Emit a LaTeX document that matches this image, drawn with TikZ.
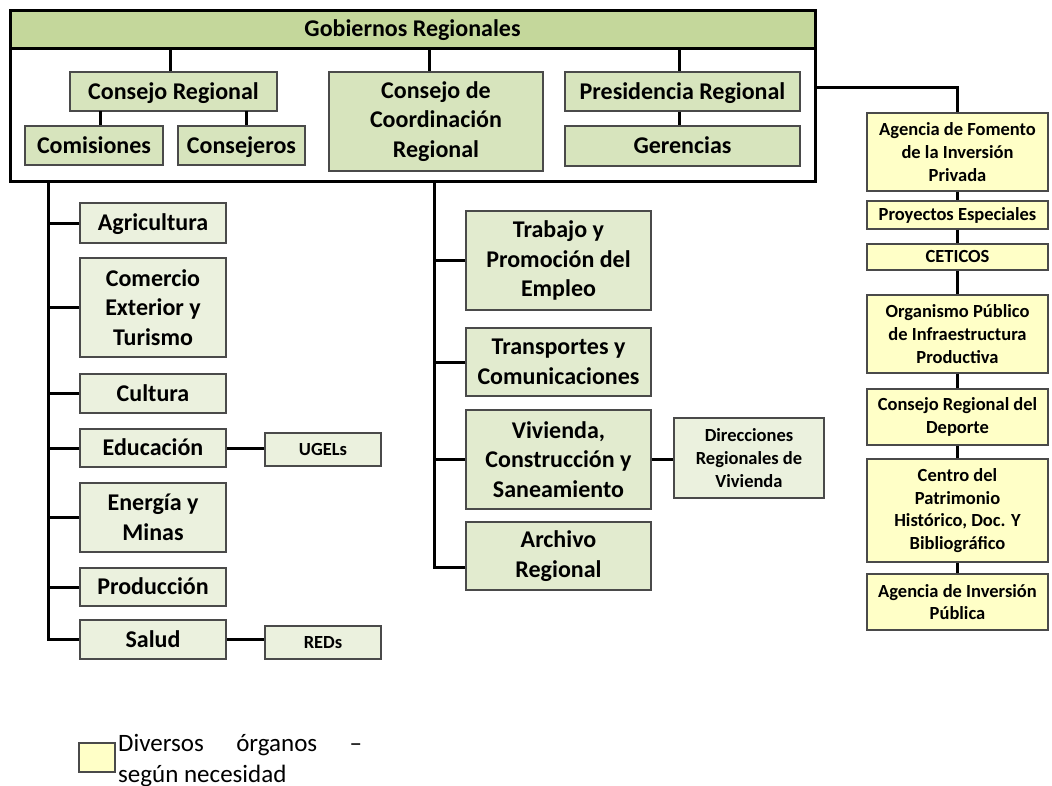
\documentclass[tikz,border=0pt]{standalone}
\usepackage{fontspec}
\setmainfont{Carlito}
\usetikzlibrary{calc}
\definecolor{hdrg}{HTML}{C4D79B}
\definecolor{lvtwo}{HTML}{D7E4BD}
\definecolor{lft}{HTML}{EBF1DE}
\definecolor{midg}{HTML}{E2EBCF}
\definecolor{yel}{HTML}{FFFFC7}
\definecolor{bgray}{HTML}{4A4A4A}
\newcommand\bx[7]{\node[#6, minimum width={(#4-#2)*1pt}, minimum height={(#5-#3)*1pt}] (#1) at ({(#2+#4)/2},{(#3+#5)/2}) {#7};}
\tikzset{
  conn/.style={line width=3pt, black},
  box/.style={draw=bgray, line width=1.2pt, align=center, inner sep=0pt, font=\bfseries\fontsize{24}{29.5}\selectfont},
  smallbox/.style={box, font=\bfseries\fontsize{18.5}{22.8}\selectfont},
  one/.style={text height=18pt, text depth=2.5pt},
  onesm/.style={text height=14pt, text depth=2.1pt},
  lvbox/.style={box, fill=lvtwo},
  lfbox/.style={box, fill=lft},
  mdbox/.style={box, fill=midg},
  ylbox/.style={smallbox, fill=yel},
}
\begin{document}
\begin{tikzpicture}[x=1pt,y=-1pt]
\useasboundingbox (0,0) rectangle (1052,785);
% top frame
\bx{outer}{10}{10}{815}{181}{draw=black, line width=3pt}{}
\bx{hdr}{10}{10}{815}{48}{draw=black, line width=3pt, fill=hdrg, one, font=\bfseries\fontsize{24}{29}\selectfont}{Gobiernos Regionales}
\bx{CR}{70}{72}{277}{111}{lvbox, one}{Consejo Regional}
\bx{Com}{25}{126}{163}{165}{lvbox, one}{Comisiones}
\bx{Cons}{178}{126}{305}{165}{lvbox, one}{Consejeros}
\bx{CCR}{329}{72}{543}{171}{lvbox}{Consejo de\\Coordinación\\Regional}
\bx{PR}{565}{72}{800}{111}{lvbox, one}{Presidencia Regional}
\bx{Ger}{565}{126}{800}{166}{lvbox, one}{Gerencias}
% left column
\bx{Agr}{80}{203}{226}{243}{lfbox, one}{Agricultura}
\bx{Cmx}{80}{258}{226}{357}{lfbox}{Comercio\\Exterior y\\Turismo}
\bx{Cul}{80}{374}{226}{413}{lfbox, one}{Cultura}
\bx{Edu}{80}{429}{226}{467}{lfbox, one}{Educación}
\bx{Ene}{80}{483}{226}{552}{lfbox}{Energía y\\Minas}
\bx{Pro}{80}{568}{226}{606}{lfbox, one}{Producción}
\bx{Sal}{80}{620}{226}{659}{lfbox, one}{Salud}
\bx{UG}{265}{433}{381}{466}{smallbox, fill=lft, onesm}{UGELs}
\bx{RED}{265}{626}{381}{659}{smallbox, fill=lft, onesm}{REDs}
% middle column
\bx{Tra}{466}{211}{651}{310}{mdbox}{Trabajo y\\Promoción del\\Empleo}
\bx{Tsp}{466}{328}{651}{396}{mdbox}{Transportes y\\Comunicaciones}
\bx{Viv}{466}{410}{651}{509}{mdbox}{Vivienda,\\Construcción y\\Saneamiento}
\bx{Arc}{466}{522}{651}{590}{mdbox}{Archivo\\Regional}
\bx{Dir}{674}{418}{824}{498}{smallbox, fill=lft}{Direcciones\\Regionales de\\Vivienda}
% right column
\bx{AF}{867}{113}{1048}{191}{ylbox}{Agencia de Fomento\\de la Inversión\\Privada}
\bx{PE}{867}{201}{1048}{229}{ylbox, onesm}{Proyectos Especiales}
\bx{CE}{867}{244}{1048}{270}{ylbox, onesm}{CETICOS}
\bx{OR}{867}{295}{1048}{373}{ylbox}{Organismo Público\\de Infraestructura\\Productiva}
\bx{CD}{867}{389}{1048}{445}{ylbox}{Consejo Regional del\\Deporte}
\bx{CP}{867}{459}{1048}{562}{ylbox}{Centro del\\Patrimonio\\Histórico, Doc. Y\\Bibliográfico}
\bx{AI}{867}{574}{1048}{630}{ylbox}{Agencia de Inversión\\Pública}
% connectors inside frame
\coordinate (kcr) at (170,48);
\coordinate (kcc) at (429,48);
\coordinate (kpr) at (679,48);
\coordinate (kcom) at (100,111);
\coordinate (kcons) at (246,111);
\draw[conn] (kcr) -- (kcr |- CR.north);
\draw[conn] (kcc) -- (kcc |- CCR.north);
\draw[conn] (kpr) -- (kpr |- PR.north);
\draw[conn] (kcom) -- (kcom |- Com.north);
\draw[conn] (kcons) -- (kcons |- Cons.north);
\draw[conn] (PR.south -| kpr) -- (Ger.north -| kpr);
% left trunk
\coordinate (L0) at (48,181);
\draw[conn] (L0) -- (L0 |- Sal.west) -- (Sal.west);
\foreach \n in {Agr,Cmx,Cul,Edu,Ene,Pro} \draw[conn] (\n.west) -- (\n.west -| L0);
\draw[conn] (Edu.east) -- (Edu.east -| UG.west);
\draw[conn] (Sal.east) -- (Sal.east -| RED.west);
% middle trunk
\coordinate (M0) at (434,181);
\coordinate (ArcIn) at ($(Arc.west)+(0,11)$);
\draw[conn] (M0) -- (M0 |- ArcIn) -- (ArcIn);
\foreach \n in {Tra,Tsp,Viv} \draw[conn] (\n.west) -- (\n.west -| M0);
\draw[conn] (Viv.east) -- (Viv.east -| Dir.west);
% right chain
\coordinate (rj) at (957.5,87);
\draw[conn] (outer.east |- rj) -- (rj) -- (AF.north);
\foreach \a/\b in {AF/PE,PE/CE,CE/OR,OR/CD,CD/CP,CP/AI} \draw[conn] (\a.south) -- (\b.north);
% legend
\bx{lgs}{79}{743}{115}{772}{draw=bgray, line width=1.2pt, fill=yel}{}
\node[anchor=base west, inner sep=0pt, font=\fontsize{25}{30}\selectfont] (lg1) at (118,751) {\makebox[244pt][s]{Diversos órganos –}};
\node[anchor=base west, inner sep=0pt, font=\fontsize{25}{30}\selectfont] (lg2) at (118,782) {según necesidad};
\end{tikzpicture}
\end{document}
